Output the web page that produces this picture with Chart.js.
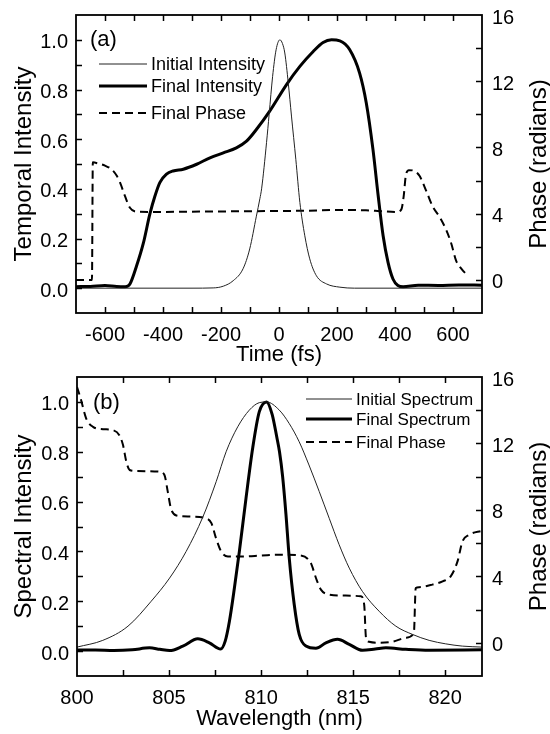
<!DOCTYPE html>
<html>
<head>
<meta charset="utf-8">
<title>Temporal and spectral intensity</title>
<script src="https://cdn.jsdelivr.net/npm/chart.js@4.4.1/dist/chart.umd.min.js"></script>
<style>
  html, body { margin: 0; padding: 0; background: #fff; }
  #wrap { position: relative; width: 550px; height: 734px; }
  .panel { position: absolute; left: 0; width: 550px; }
  #pa { top: 0; height: 367px; }
  #pb { top: 362px; height: 372px; }
</style>
</head>
<body>
<div id="wrap">
  <div class="panel" id="pa"><canvas id="chart-a"></canvas></div>
  <div class="panel" id="pb"><canvas id="chart-b"></canvas></div>
</div>
<script>
/* Two stacked panels: (a) temporal intensity + phase, (b) spectrum + phase */

const FONT = "'Liberation Sans', Arial, Helvetica, sans-serif";
const INK  = "#000";
const THIN = "#222";
const TICK_LEN = 6;

/* ---- axis ticks ---- */
const TIME_TICKS   = [-600, -500, -400, -300, -200, -100, 0, 100, 200, 300, 400, 500, 600];
const TIME_LABELS  = [-600, -400, -200, 0, 200, 400, 600];
const WL_TICKS     = [800, 802.5, 805, 807.5, 810, 812.5, 815, 817.5, 820];
const WL_LABELS    = [800, 805, 810, 815, 820];
const INT_TICKS    = [0, 0.1, 0.2, 0.3, 0.4, 0.5, 0.6, 0.7, 0.8, 0.9, 1.0];
const INT_LABELS   = [0, 0.2, 0.4, 0.6, 0.8, 1.0];
const PHASE_TICKS  = [0, 2, 4, 6, 8, 10, 12, 14, 16];
const PHASE_LABELS = [0, 4, 8, 12, 16];

/* ---- panel (a): time domain ---- */
const T_INIT = [-700, -300, -227, -192, -158, -124, -101, -78, -66, -60, -43, -34, -22, -10, 3, 12, 20, 32, 43, 58, 72, 89, 106, 129, 164, 210, 260, 700];
const I_INIT = [0, 0, 0.001, 0.008, 0.03, 0.078, 0.158, 0.29, 0.36, 0.40, 0.586, 0.70, 0.853, 0.96, 1.0, 0.985, 0.947, 0.826, 0.693, 0.519, 0.345, 0.211, 0.118, 0.05, 0.017, 0.004, 0, 0];

const T_FIN = [-700, -650, -600, -560, -530, -514, -491, -468, -445, -428, -411, -388, -365, -330, -284, -238, -192, -147, -112, -78, -32, 26, 72, 118, 152, 181, 210, 244, 278, 301, 324, 342, 359, 376, 393, 410, 428, 480, 550, 620, 700];
const I_FIN = [0.006, 0.007, 0.011, 0.007, 0.006, 0.017, 0.09, 0.18, 0.30, 0.37, 0.425, 0.459, 0.472, 0.479, 0.499, 0.525, 0.545, 0.565, 0.592, 0.639, 0.713, 0.82, 0.893, 0.953, 0.989, 1.0, 0.996, 0.96, 0.866, 0.746, 0.559, 0.372, 0.211, 0.104, 0.037, 0.011, 0.006, 0.012, 0.011, 0.013, 0.012];

const T_PH = [-700, -645, -642, -623, -600, -577, -560, -548, -531, -514, -491, -445, -300, -100, 100, 200, 300, 350, 405, 422, 430, 437, 448, 468, 485, 508, 531, 554, 577, 594, 611, 630, 648];
const PH_T = [0, 0, 7.1, 7.03, 6.9, 6.67, 6.3, 5.87, 5.06, 4.36, 4.12, 4.1, 4.12, 4.15, 4.18, 4.22, 4.2, 4.15, 4.1, 4.26, 5.06, 6.27, 6.63, 6.57, 6.27, 5.36, 4.4, 3.8, 3.0, 2.2, 1.15, 0.65, 0.3];

/* ---- panel (b): spectral domain ---- */
const WL_INIT = [800, 801.4, 802.77, 804.03, 805.03, 805.93, 806.83, 807.56, 808.1, 808.73, 809.36, 809.9, 810.3, 810.99, 811.53, 812.07, 812.6, 813.16, 813.7, 814.24, 814.79, 815.5, 816.41, 817.32, 818.22, 819.13, 820.03, 820.93, 822];
const S_INIT  = [0.016, 0.043, 0.10, 0.20, 0.293, 0.40, 0.537, 0.68, 0.80, 0.90, 0.967, 0.997, 1.0, 0.967, 0.913, 0.84, 0.747, 0.64, 0.533, 0.427, 0.333, 0.24, 0.16, 0.10, 0.067, 0.043, 0.029, 0.02, 0.016];

const WL_FIN = [800, 801, 802, 803, 803.94, 804.5, 805.03, 805.75, 806.56, 807.19, 807.8, 808.05, 808.28, 808.55, 808.82, 809.18, 809.54, 809.9, 810.3, 810.6, 810.85, 811.0, 811.17, 811.35, 811.53, 811.8, 812.07, 812.44, 812.98, 813.52, 814.15, 814.79, 815.51, 816.2, 816.78, 817.86, 819.13, 822];
const S_FIN  = [0.004, 0.004, 0.002, 0.005, 0.013, 0.007, 0.002, 0.02, 0.049, 0.033, 0.008, 0.04, 0.12, 0.253, 0.40, 0.613, 0.813, 0.96, 1.0, 0.95, 0.86, 0.80, 0.70, 0.55, 0.373, 0.187, 0.067, 0.02, 0.011, 0.033, 0.047, 0.027, 0.003, 0.008, 0.013, 0.007, 0.003, 0.005];

const WL_PH = [800.0, 800.2, 800.5, 800.87, 801.41, 801.95, 802.3, 802.5, 802.68, 802.86, 803.2, 804.48, 804.75, 804.93, 805.1, 805.4, 806.1, 807.0, 807.3, 807.55, 807.83, 808.2, 809.0, 810.0, 811.0, 812.07, 812.7, 812.98, 813.25, 813.7, 814.6, 815.42, 815.6, 815.7, 815.87, 816.41, 817.14, 817.87, 818.3, 818.4, 818.58, 819.3, 819.86, 820.3, 820.67, 820.94, 821.3, 822];
const PH_WL = [15.4, 14.7, 13.5, 13.0, 12.86, 12.8, 12.5, 11.9, 10.9, 10.4, 10.34, 10.3, 10.1, 9.1, 8.1, 7.66, 7.6, 7.5, 7.2, 6.3, 5.5, 5.2, 5.2, 5.25, 5.3, 5.26, 4.8, 3.9, 3.2, 2.9, 2.84, 2.8, 2.3, 0.3, 0.06, 0.0, 0.06, 0.3, 0.6, 3.3, 3.35, 3.5, 3.7, 4.0, 4.9, 6.1, 6.5, 6.74];

const pts = (xs, ys) => xs.map((x, i) => ({ x: x, y: ys[i] }));

/* Box, inward ticks, in-plot legend, panel tag and right-hand title */
const framePlugin = {
  id: "frame",
  afterDatasetsDraw(chart, args, o) {
    const { ctx, chartArea: a, scales } = chart;
    ctx.save();
    ctx.strokeStyle = INK;
    ctx.lineWidth = 1.5;
    ctx.setLineDash([]);
    ctx.beginPath();
    scales.x.ticks.forEach(t => {
      const px = Math.round(scales.x.getPixelForValue(t.value)) + 0.5;
      if (px <= a.left + 1 || px >= a.right - 1) return;
      ctx.moveTo(px, a.bottom); ctx.lineTo(px, a.bottom - TICK_LEN);
      ctx.moveTo(px, a.top);    ctx.lineTo(px, a.top + TICK_LEN);
    });
    scales.y.ticks.forEach(t => {
      const py = Math.round(scales.y.getPixelForValue(t.value)) + 0.5;
      if (py <= a.top + 1 || py >= a.bottom - 1) return;
      ctx.moveTo(a.left, py); ctx.lineTo(a.left + TICK_LEN, py);
    });
    scales.y2.ticks.forEach(t => {
      const py = Math.round(scales.y2.getPixelForValue(t.value)) + 0.5;
      if (py <= a.top + 1 || py >= a.bottom - 1) return;
      ctx.moveTo(a.right, py); ctx.lineTo(a.right - TICK_LEN, py);
    });
    ctx.stroke();
    ctx.lineWidth = 1.8;
    ctx.strokeRect(a.left, a.top, a.right - a.left, a.bottom - a.top);

    /* legend, drawn with each dataset's own stroke */
    ctx.font = o.legendSize + "px " + FONT;
    ctx.fillStyle = INK;
    ctx.textAlign = "left";
    ctx.textBaseline = "middle";
    chart.data.datasets.forEach((ds, i) => {
      const y = a.top + o.rows[i];
      const x0 = a.left + o.lineX;
      ctx.strokeStyle = ds.borderColor;
      ctx.lineWidth = ds.borderWidth;
      ctx.setLineDash(ds.borderDash || []);
      ctx.beginPath();
      ctx.moveTo(x0, y);
      ctx.lineTo(x0 + o.lineLen, y);
      ctx.stroke();
      ctx.fillText(ds.label, x0 + o.lineLen + 4, y + 1);
    });
    ctx.setLineDash([]);

    ctx.font = "22px " + FONT;
    ctx.fillText(o.tag, a.left + o.tagX, a.top + o.tagY);

    ctx.save();
    ctx.translate(539, (a.top + a.bottom) / 2);
    ctx.rotate(-Math.PI / 2);
    ctx.textAlign = "center";
    ctx.font = "24px " + FONT;
    ctx.fillText("Phase (radians)", 0, 0);
    ctx.restore();
    ctx.restore();
  }
};

function listTicks(values) {
  return axis => { axis.ticks = values.map(v => ({ value: v })); };
}

/* fixed axis boxes so the plot frame lands where the reference has it */
function fixWidth(w) {
  return s => { s.width = w; s.paddingTop = 0; s.paddingBottom = 0; };
}
function fixHeight(h) {
  return s => { s.height = h; s.paddingLeft = 0; s.paddingRight = 0; };
}

const NO_GRID = { display: false, drawTicks: false };

function drawPanel(id, p) {
  return new Chart(document.getElementById(id), {
    type: "line",
    data: {
      datasets: [
        { label: p.names[0], data: pts(p.x0, p.y0), borderColor: THIN, borderWidth: 1, yAxisID: "y" },
        { label: p.names[1], data: pts(p.x1, p.y1), borderColor: INK, borderWidth: 3, yAxisID: "y" },
        { label: p.names[2], data: pts(p.x2, p.y2), borderColor: INK, borderWidth: 2, borderDash: [8, 5], yAxisID: "y2" }
      ]
    },
    options: {
      responsive: true,
      maintainAspectRatio: false,
      animation: false,
      layout: { padding: { top: 15, left: 0, right: 0, bottom: 0 } },
      elements: {
        point: { radius: 0, hoverRadius: 0 },
        line: { cubicInterpolationMode: "monotone", fill: false, borderJoinStyle: "round" }
      },
      plugins: {
        legend: { display: false },
        tooltip: { enabled: false },
        frame: p.frame
      },
      scales: {
        x: {
          type: "linear",
          min: p.xMin, max: p.xMax,
          afterBuildTicks: listTicks(p.xTicks),
          afterFit: fixHeight(p.xh),
          grid: NO_GRID, border: { display: false },
          ticks: {
            autoSkip: false, maxRotation: 0, minRotation: 0, padding: 10,
            color: INK, font: { family: FONT, size: 20 },
            callback: v => p.xLabels.includes(v) ? String(v) : ""
          },
          title: {
            display: true, text: p.xTitle, color: INK,
            font: { family: FONT, size: 22, lineHeight: 1 },
            padding: { top: 0, bottom: p.xTitlePad }
          }
        },
        y: {
          position: "left",
          min: -0.1, max: 1.1,
          afterBuildTicks: listTicks(INT_TICKS),
          afterFit: fixWidth(p.yw),
          grid: NO_GRID, border: { display: false },
          ticks: {
            autoSkip: false, padding: 8, labelOffset: 3,
            color: INK, font: { family: FONT, size: 20 },
            callback: v => INT_LABELS.includes(v) ? v.toFixed(1) : ""
          },
          title: {
            display: true, text: p.yTitle, color: INK,
            font: { family: FONT, size: 24, lineHeight: 1 },
            padding: { top: 12, bottom: 0 }
          }
        },
        y2: {
          position: "right",
          min: -2, max: 16,
          afterBuildTicks: listTicks(PHASE_TICKS),
          afterFit: fixWidth(68),
          grid: NO_GRID, border: { display: false },
          ticks: {
            autoSkip: false, padding: 10, labelOffset: 3,
            color: INK, font: { family: FONT, size: 20 },
            callback: v => PHASE_LABELS.includes(v) ? String(v) : ""
          }
        }
      }
    },
    plugins: [framePlugin]
  });
}

drawPanel("chart-a", {
  names: ["Initial Intensity", "Final Intensity", "Final Phase"],
  x0: T_INIT, y0: I_INIT, x1: T_FIN, y1: I_FIN, x2: T_PH, y2: PH_T,
  xMin: -700, xMax: 700, xTicks: TIME_TICKS, xLabels: TIME_LABELS,
  xTitle: "Time (fs)", yTitle: "Temporal Intensity",
  xh: 54, yw: 76, xTitlePad: 1,
  frame: { rows: [49, 71, 98], lineX: 23, lineLen: 48, legendSize: 18, tag: "(a)", tagX: 14, tagY: 25 }
});

drawPanel("chart-b", {
  names: ["Initial Spectrum", "Final Spectrum", "Final Phase"],
  x0: WL_INIT, y0: S_INIT, x1: WL_FIN, y1: S_FIN, x2: WL_PH, y2: PH_WL,
  xMin: 800, xMax: 822, xTicks: WL_TICKS, xLabels: WL_LABELS,
  xTitle: "Wavelength (nm)", yTitle: "Spectral Intensity",
  xh: 58, yw: 77, xTitlePad: 4,
  frame: { rows: [22, 42, 65], lineX: 229, lineLen: 46, legendSize: 17, tag: "(b)", tagX: 16, tagY: 26 }
});
</script>
</body>
</html>
